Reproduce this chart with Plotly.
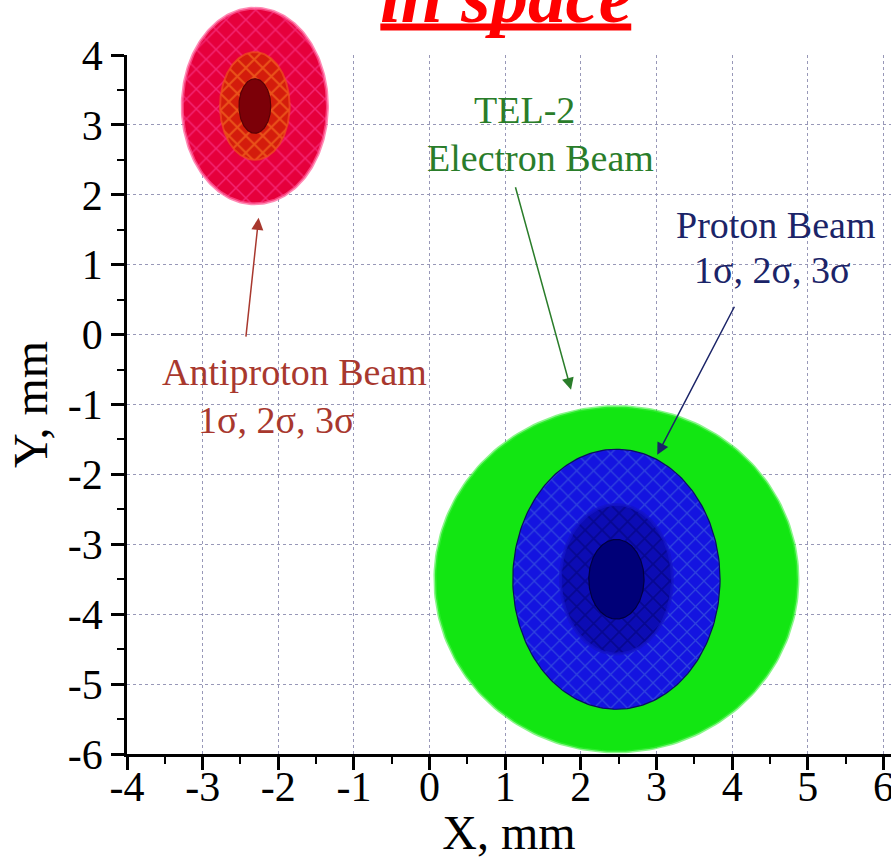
import numpy as np
import plotly.graph_objects as go

# Beam envelopes (mm): centre and semi-axes for 3σ, 2σ, 1σ contours
antiproton_center = (-2.31, 3.27)
antiproton_rx = [0.96, 0.46, 0.21]
antiproton_ry = [1.40, 0.77, 0.39]

proton_center = (2.47, -3.50)
proton_rx = [1.37, 0.74, 0.365]
proton_ry = [1.86, 1.07, 0.57]

electron_center = (2.47, -3.50)
electron_rx = 2.40
electron_ry = 2.47

x_ticks = [-4, -3, -2, -1, 0, 1, 2, 3, 4, 5, 6]
y_ticks = [-6, -5, -4, -3, -2, -1, 0, 1, 2, 3, 4]
X_RANGE = [-4, 6.1]
Y_RANGE = [-6, 4]

SERIF = "Liberation Serif, Times New Roman, serif"
theta = np.linspace(0, 2 * np.pi, 241)

# frame geometry (px)
W, H = 891, 859
M_L, M_B = 127, 105
FRAME_TOP = 55                      # pixel row of y = 4
PLOT_H = H - M_B                    # drawing area runs to the top of the page
main_top = (PLOT_H - FRAME_TOP) / PLOT_H
# an overlay axis pair with the same scale but reaching the page top,
# so the antiproton envelope may rise above the frame
y2_top = Y_RANGE[0] + (Y_RANGE[1] - Y_RANGE[0]) / main_top


def ellipse(center, rx, ry, fill, line, pattern=None, lw=1.2, axes=("x", "y")):
    cx, cy = center
    kw = dict(
        x=cx + rx * np.cos(theta),
        y=cy + ry * np.sin(theta),
        mode="lines",
        fill="toself",
        fillcolor=fill,
        line=dict(color=line, width=lw),
        hoverinfo="skip",
        showlegend=False,
        xaxis=axes[0],
        yaxis=axes[1],
    )
    if pattern is not None:
        kw["fillpattern"] = pattern
    return go.Scatter(**kw)


fig = go.Figure()

# TEL-2 electron beam
fig.add_trace(ellipse(electron_center, electron_rx, electron_ry,
                      "#12e612", "rgba(60,240,60,0.6)", lw=3))

# proton beam 3σ / 2σ / 1σ
fig.add_trace(ellipse(proton_center, proton_rx[0], proton_ry[0], "#1616dc", "#0a1060",
                      dict(shape="x", bgcolor="#1414e0", fgcolor="#4a72da",
                           size=12, solidity=0.2)))
fig.add_trace(ellipse(proton_center, proton_rx[1], proton_ry[1], "#0c0cb0", "rgba(20,20,200,0.8)",
                      dict(shape="x", bgcolor="#0c0cb4", fgcolor="#02026e",
                           size=12, solidity=0.28), lw=3))
fig.add_trace(ellipse(proton_center, proton_rx[2], proton_ry[2], "#000078", "#000040"))

# antiproton beam 3σ / 2σ / 1σ on the overlay axes
ov = ("x2", "y2")
fig.add_trace(ellipse(antiproton_center, antiproton_rx[0], antiproton_ry[0], "#e6003c",
                      "rgba(255,90,150,0.7)",
                      dict(shape="x", bgcolor="#e6003c", fgcolor="#ff4aa8",
                           size=14, solidity=0.2), lw=3, axes=ov))
fig.add_trace(ellipse(antiproton_center, antiproton_rx[1], antiproton_ry[1], "#d82010",
                      "rgba(240,80,30,0.7)",
                      dict(shape="x", bgcolor="#d41c0c", fgcolor="#ff8a26",
                           size=12, solidity=0.3), lw=2, axes=ov))
fig.add_trace(ellipse(antiproton_center, antiproton_rx[2], antiproton_ry[2], "#7c0008", "#5a0005",
                      axes=ov))

GREEN = "#2a7d2a"
NAVY = "#1b2468"
BROWN = "#a8382e"

labels = [
    ("TEL-2", 1.26, 3.22, GREEN),
    ("Electron Beam", 1.46, 2.53, GREEN),
    ("Proton Beam", 4.57, 1.57, NAVY),
    ("1σ, 2σ, 3σ", 4.53, 0.92, NAVY),
    ("Antiproton Beam", -1.79, -0.54, BROWN),
    ("1σ, 2σ, 3σ", -2.03, -1.22, BROWN),
]
for text, lx, ly, col in labels:
    fig.add_annotation(x=lx, y=ly, text=text, showarrow=False, xanchor="center",
                       yanchor="middle", font=dict(family=SERIF, size=38, color=col))

# pointer arrows: (tail x, tail y, head x, head y, colour)
arrows = [
    (-2.43, -0.05, -2.26, 1.67, BROWN),
    (1.13, 2.13, 1.87, -0.79, GREEN),
    (4.04, 0.42, 3.01, -1.72, NAVY),
]
for tx, ty, hx, hy, col in arrows:
    fig.add_annotation(x=hx, y=hy, ax=tx, ay=ty, xref="x", yref="y", axref="x", ayref="y",
                       text="", showarrow=True, arrowhead=2, arrowsize=1.6, arrowwidth=1.5,
                       arrowcolor=col)


def py(row):
    """page pixel row -> paper fraction"""
    return (PLOT_H - row) / PLOT_H


# heading, partly above the page
fig.add_annotation(x=0.4957, y=py(-3), xref="paper", yref="paper",
                   text="<b><i>in space</i></b>",
                   showarrow=False, xanchor="center", yanchor="middle",
                   font=dict(family=SERIF, size=75, color="#ff0000"))
fig.add_shape(type="line", xref="paper", yref="paper", x0=0.3316, x1=0.66,
              y0=py(27), y1=py(27), line=dict(color="#ff0000", width=7))

axis_common = dict(
    showline=True, linecolor="black", linewidth=2.5,
    ticks="outside", ticklen=13, tickwidth=2.5, tickcolor="black",
    showgrid=True, gridcolor="#9898b8", griddash="dot", gridwidth=1.3,
    zeroline=False,
    tickfont=dict(family=SERIF, size=42, color="black"),
    ticklabeloverflow="allow",
    minor=dict(ticks="outside", ticklen=7, tickwidth=2, tickcolor="black",
               dtick=0.5, showgrid=False),
)

fig.update_layout(
    xaxis=dict(range=X_RANGE, domain=[0, 1], anchor="y",
               tickvals=x_ticks, ticktext=[str(v) for v in x_ticks],
               ticklabelstandoff=-19,
               title=dict(text="X, mm", font=dict(family=SERIF, size=48, color="black"),
                          standoff=8),
               **axis_common),
    yaxis=dict(range=Y_RANGE, domain=[0, main_top], anchor="x",
               tickvals=y_ticks, ticktext=[str(v) for v in y_ticks],
               title=dict(text="Y, mm", font=dict(family=SERIF, size=48, color="black"),
                          standoff=6),
               **axis_common),
    xaxis2=dict(range=X_RANGE, domain=[0, 1], anchor="y2", visible=False,
                showgrid=False, zeroline=False),
    yaxis2=dict(range=[Y_RANGE[0], y2_top], domain=[0, 1], anchor="x2", visible=False,
                showgrid=False, zeroline=False),
    width=W, height=H,
    margin=dict(l=M_L, r=0, t=0, b=M_B, autoexpand=False),
    paper_bgcolor="white", plot_bgcolor="rgba(0,0,0,0)",
    showlegend=False,
)

fig.write_html("out.html")
